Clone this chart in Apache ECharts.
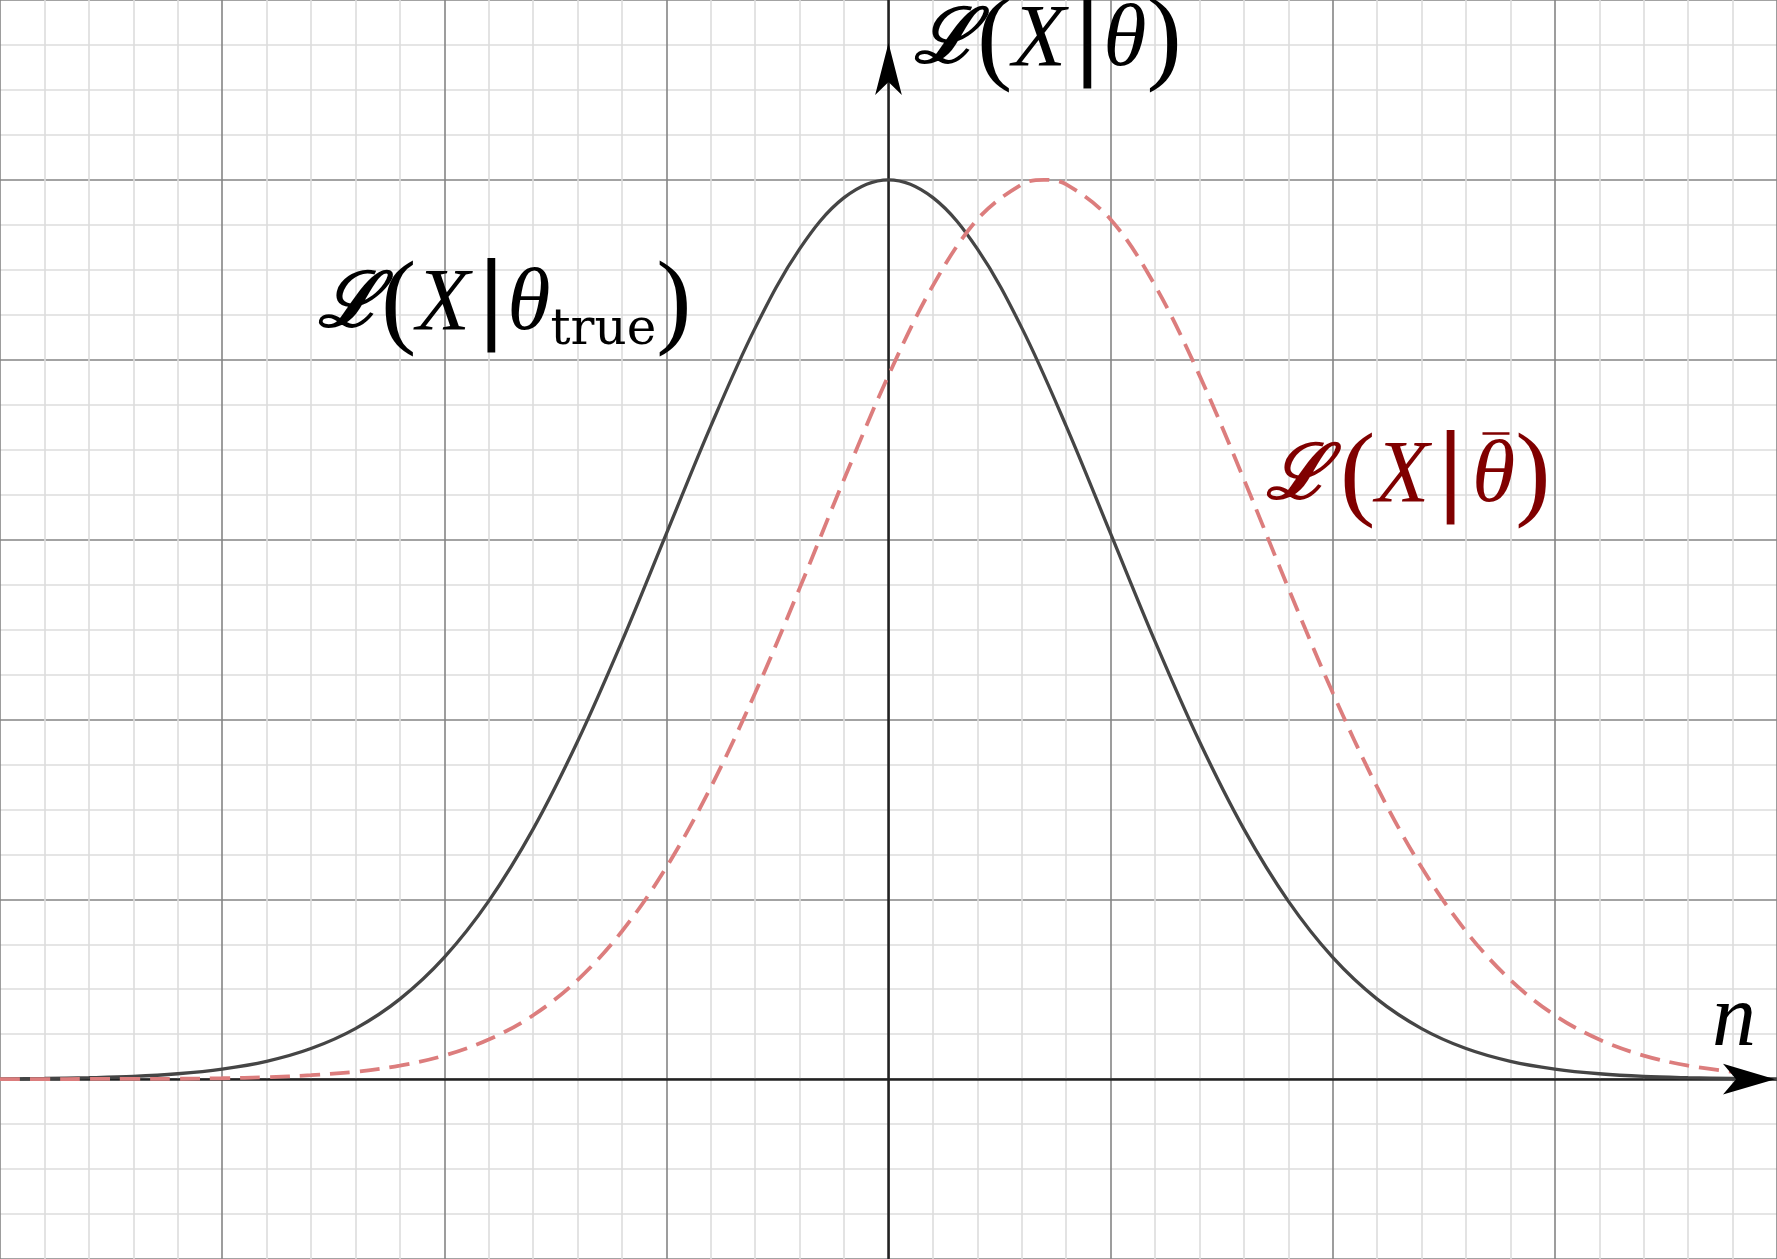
<!DOCTYPE html>
<html>
<head>
<meta charset="utf-8">
<script src="https://cdn.jsdelivr.net/npm/echarts@6/dist/echarts.min.js"></script>
<style>
html,body{margin:0;padding:0;background:#fff;}
#chart{width:1777px;height:1259px;}
</style>
</head>
<body>
<div id="chart"></div>
<script>
// Black solid curve: L(X|theta_true), read at every minor grid line
const blackX = [-4, -3.8, -3.6, -3.4, -3.2, -3, -2.8, -2.6, -2.4, -2.2, -2, -1.8, -1.6, -1.4, -1.2, -1, -0.8, -0.6, -0.4, -0.2, 0,
                0.2, 0.4, 0.6, 0.8, 1, 1.2, 1.4, 1.6, 1.8, 2, 2.2, 2.4, 2.6, 2.8, 3, 3.2, 3.4, 3.6, 3.8, 4];
const blackY = [0.002, 0.004, 0.008, 0.015, 0.030, 0.056, 0.099, 0.170, 0.281, 0.445, 0.677, 0.990, 1.390, 1.877, 2.434, 3.033, 3.631, 4.177, 4.616, 4.901, 5.000,
                4.901, 4.616, 4.177, 3.631, 3.033, 2.434, 1.877, 1.390, 0.990, 0.677, 0.445, 0.281, 0.170, 0.099, 0.056, 0.030, 0.015, 0.008, 0.004, 0.002];
// Red dashed curve: L(X|theta-bar), read at every minor grid line plus its peak
const redX = [-4, -3.8, -3.6, -3.4, -3.2, -3, -2.8, -2.6, -2.4, -2.2, -2, -1.8, -1.6, -1.4, -1.2, -1, -0.8, -0.6, -0.4, -0.2, 0,
              0.2, 0.4, 0.6, 0.7, 0.8, 1, 1.2, 1.4, 1.6, 1.8, 2, 2.2, 2.4, 2.6, 2.8, 3, 3.2, 3.4, 3.6, 3.8];
const redY = [0.000, 0.000, 0.001, 0.001, 0.002, 0.005, 0.011, 0.022, 0.041, 0.075, 0.131, 0.220, 0.355, 0.551, 0.822, 1.178, 1.623, 2.148, 2.730, 3.335, 3.913,
              4.412, 4.780, 4.975, 5.000, 4.975, 4.780, 4.412, 3.913, 3.335, 2.730, 2.148, 1.623, 1.178, 0.822, 0.551, 0.355, 0.220, 0.131, 0.075, 0.041];

const xRange = [-4, 4];
const yRange = [-1, 6];
const yArrowTip = [0, 5.761];
const xArrowTip = [3.991, 0];

const pairs = (xs, ys) => xs.map((x, i) => [x, ys[i]]);

const serif = '"Liberation Serif", "DejaVu Serif", serif';
function richSet(color) {
  return {
    l: {fontFamily: '"DejaVu Serif"', fontStyle: 'italic', fontWeight: 'bold', fontSize: 76, lineHeight: 100, color: color},
    p: {fontFamily: serif, fontWeight: 'normal', fontSize: 106, lineHeight: 100, color: color},
    i: {fontFamily: serif, fontStyle: 'italic', fontWeight: 'normal', fontSize: 88, lineHeight: 100, color: color},
    b: {fontFamily: '"DejaVu Sans"', fontWeight: 'normal', fontSize: 94, lineHeight: 100, color: color},
    s: {fontFamily: '"DejaVu Serif"', fontWeight: 'normal', fontSize: 50, lineHeight: 58, verticalAlign: 'bottom', color: color},
    sp: {fontSize: 20, fontWeight: 'normal', lineHeight: 100, color: color}
  };
}

const chart = echarts.init(document.getElementById('chart'));
chart.setOption({
  animation: false,
  backgroundColor: '#ffffff',
  grid: {left: 0, right: 0, top: 0, bottom: 0, containLabel: false},
  title: [
    {left: 914, top: -8, padding: 0,
     text: '{l|ℒ}{p|(}{i|X}{sp| }{b||}{i|θ}{p|)}',
     textStyle: {fontWeight: 'normal', rich: richSet('#000000')}},
    {left: 318, top: 256, padding: 0,
     text: '{l|ℒ}{p|(}{i|X}{sp| }{b||}{i|θ}{s|true}{p|)}',
     textStyle: {fontWeight: 'normal', rich: richSet('#000000')}},
    {left: 1266, top: 428, padding: 0,
     text: '{l|ℒ}{sp| }{sp| }{p|(}{i|X}{sp| }{b||}{sp| }{i|θ}{p|)}',
     textStyle: {fontWeight: 'normal', rich: richSet('#800000')}},
    {left: 1712, top: 972, padding: 0,
     text: '{i|n}',
     textStyle: {fontWeight: 'normal', rich: richSet('#000000')}}
  ],
  graphic: [
    // bar over theta in the red label
    {type: 'line', left: 1480, top: 431, shape: {x1: 0, y1: 0, x2: 27, y2: 0},
     style: {stroke: '#800000', lineWidth: 2.5}, silent: true}
  ],
  xAxis: {
    type: 'value', min: xRange[0], max: xRange[1], interval: 1,
    axisLine: {show: true, onZero: true, lineStyle: {color: '#222', width: 2.5}},
    axisTick: {show: false}, axisLabel: {show: false},
    splitLine: {show: true, lineStyle: {color: '#858585', width: 1.6}},
    minorTick: {show: false, splitNumber: 5},
    minorSplitLine: {show: true, lineStyle: {color: '#dcdcdc', width: 1.6}}
  },
  yAxis: {
    type: 'value', min: yRange[0], max: yRange[1], interval: 1,
    axisLine: {show: true, onZero: true, lineStyle: {color: '#222', width: 2.5}},
    axisTick: {show: false}, axisLabel: {show: false},
    splitLine: {show: true, lineStyle: {color: '#858585', width: 1.6}},
    minorTick: {show: false, splitNumber: 4},
    minorSplitLine: {show: true, lineStyle: {color: '#dcdcdc', width: 1.6}}
  },
  series: [
    {
      type: 'line', data: pairs(blackX, blackY), smooth: 0.35, symbol: 'none', silent: true,
      lineStyle: {color: '#454545', width: 3.3},
      markPoint: {
        silent: true,
        label: {show: false},
        data: [
          {coord: yArrowTip, symbol: 'arrow', symbolSize: [20, 52], itemStyle: {color: '#000'}},
          {coord: xArrowTip, symbol: 'arrow', symbolSize: [23, 52], symbolRotate: -90, itemStyle: {color: '#000'}}
        ]
      }
    },
    {
      type: 'line', data: pairs(redX, redY), smooth: 0.35, symbol: 'none', silent: true,
      lineStyle: {color: '#dc7d7d', width: 3.8, type: [20, 10]}
    }
  ]
});
</script>
</body>
</html>
